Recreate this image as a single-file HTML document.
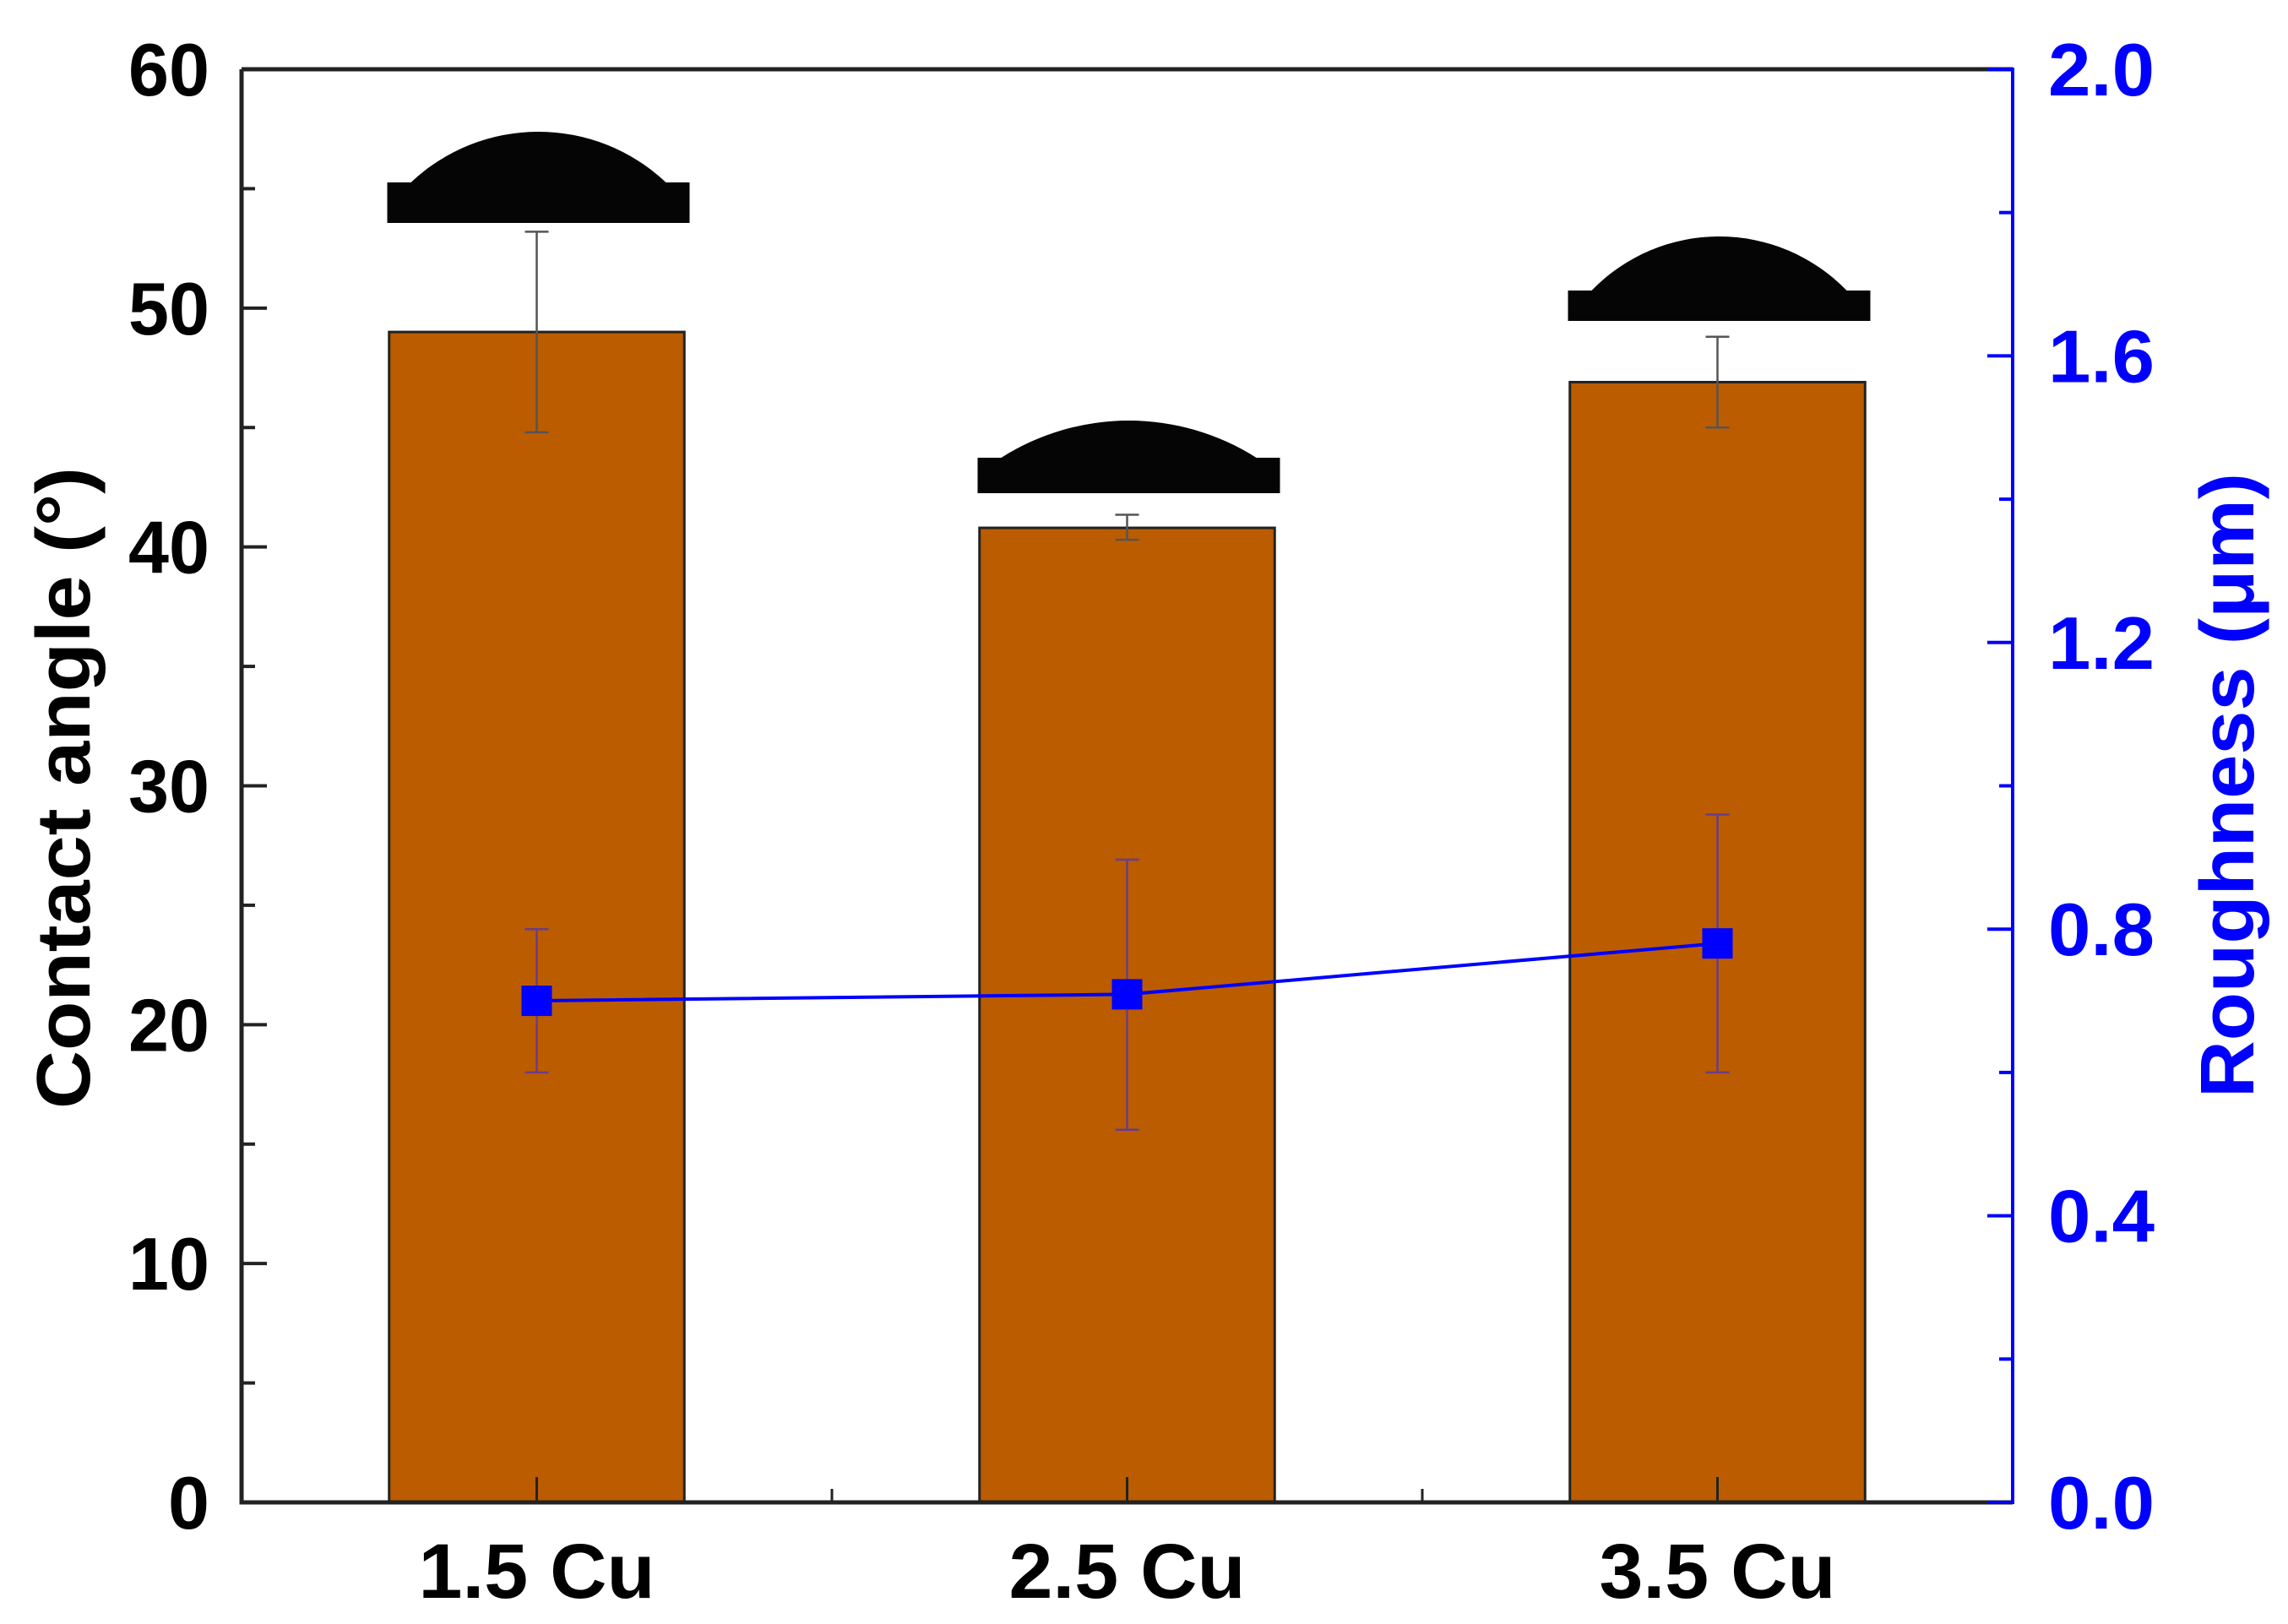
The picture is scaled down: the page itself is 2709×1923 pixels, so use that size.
<!DOCTYPE html>
<html><head><meta charset="utf-8"><style>
html,body{margin:0;padding:0;background:#fff;}
svg{display:block;}
text{font-family:"Liberation Sans",Arial,sans-serif;font-weight:bold;}
</style></head><body>
<svg id="chart" width="2709" height="1923" viewBox="0 0 2709 1923" xmlns="http://www.w3.org/2000/svg">
<g id="droplets"></g>
<g id="bars"></g>
<g id="rough"></g>
<g id="axes"></g>
</svg>
<script>
const categories = ["1.5 Cu", "2.5 Cu", "3.5 Cu"];
const contactAngle = [49.0, 40.8, 46.9];
const angleErrLow = [44.8, 40.3, 45.0];
const angleErrHigh = [53.2, 41.35, 48.8];
const roughness = [0.70, 0.709, 0.78];
const roughErrLow = [0.60, 0.52, 0.60];
const roughErrHigh = [0.80, 0.897, 0.96];
const leftTicks = [0, 10, 20, 30, 40, 50, 60];
const rightTicks = [0, 0.4, 0.8, 1.2, 1.6, 2.0];

const NS = "http://www.w3.org/2000/svg";
const L = 286, R = 2383, T = 82, B = 1779;
const xs = i => L + (i + 0.5) * (R - L) / 3;
const yL = v => B - v / 60 * (B - T);
const yR = v => B - v / 2 * (B - T);
function mk(parent, tag, attrs) {
  const e = document.createElementNS(NS, tag);
  for (const k in attrs) e.setAttribute(k, attrs[k]);
  parent.appendChild(e);
  return e;
}
const gB = document.getElementById('bars'), gR = document.getElementById('rough'),
      gA = document.getElementById('axes'), gD = document.getElementById('droplets');
const bw = (R - L) / 6;
const dropLayout = [[264, 48, 60], [584, 42, 44], [380, 36, 64]];

categories.forEach((c, i) => {
  const x = xs(i);
  const r = mk(gB, 'rect', {x: x - bw / 2, y: yL(contactAngle[i]), width: bw, height: B - yL(contactAngle[i]), fill: '#bb5c00', stroke: '#222', 'stroke-width': 3});
  
  
  const e = mk(gB, 'path', {d: `M${x},${yL(angleErrHigh[i])}V${yL(angleErrLow[i])}M${x-14},${yL(angleErrHigh[i])}h28M${x-14},${yL(angleErrLow[i])}h28`, stroke: '#555', 'stroke-width': 2.5, fill: 'none'});
  
  
  const [bot, h, dh] = dropLayout[i];
  const w = 358, dx = x - w / 2 + 2, s = bot - h;
  const chord = w - 56, rad = (chord * chord / 4 + dh * dh) / (2 * dh);
  const d = mk(gD, 'path', {d: `M${dx},${bot}V${s}H${dx+28}A${rad},${rad} 0 0 1 ${dx+w-28},${s}H${dx+w}V${bot}Z`, fill: '#050505'});
  
  
});

let pts = roughness.map((v, i) => [xs(i), yR(v)]);
const line = mk(gR, 'polyline', {points: pts.map(p => p.join(',')).join(' '), fill: 'none', stroke: '#0000ff', 'stroke-width': 4});


roughness.forEach((v, i) => {
  const x = xs(i);
  const e = mk(gR, 'path', {d: `M${x},${yR(roughErrHigh[i])}V${yR(roughErrLow[i])}M${x-14},${yR(roughErrHigh[i])}h28M${x-14},${yR(roughErrLow[i])}h28`, stroke: '#6a3d8a', 'stroke-width': 2.5, fill: 'none'});
  
  
  const m = mk(gR, 'rect', {x: x - 18, y: yR(v) - 18, width: 36, height: 36, fill: '#0000ff'});
  
  
});

const frame = mk(gA, 'path', {d: `M${L},${T}H${R}M${L},${T}V${B}H${R}`, stroke: '#222', 'stroke-width': 5, fill: 'none'});


const ra = mk(gA, 'line', {x1: R, y1: T - 2, x2: R, y2: B + 2, stroke: '#0000ff', 'stroke-width': 4});


for (let v = 0; v <= 60; v += 5) {
  const major = v % 10 === 0;
  mk(gA, 'line', {x1: L, y1: yL(v), x2: L + (major ? 30 : 16), y2: yL(v), stroke: '#222', 'stroke-width': 4});
}
leftTicks.forEach(v => {
  const attrs = {x: 248, y: yL(v) + 31, 'text-anchor': 'end', 'font-size': 88, fill: '#000'};
  if (v >= 10) { attrs.textLength = 96; attrs.lengthAdjust = 'spacingAndGlyphs'; }
  const t = mk(gA, 'text', attrs);
  t.textContent = v;
  
  
});
for (let v = 0; v <= 2.0001; v += 0.2) {
  const major = Math.round(v * 10) % 4 === 0;
  mk(gA, 'line', {x1: R, y1: yR(v), x2: R - (major ? 30 : 16), y2: yR(v), stroke: '#0000ff', 'stroke-width': 4});
}
rightTicks.forEach(v => {
  const t = mk(gA, 'text', {x: 2425, y: yR(v) + 31, 'text-anchor': 'start', 'font-size': 88, fill: '#0000ff', textLength: 126, lengthAdjust: 'spacingAndGlyphs'});
  t.textContent = v.toFixed(1);
  
  
});
categories.forEach((c, i) => {
  mk(gA, 'line', {x1: xs(i), y1: B, x2: xs(i), y2: B - 30, stroke: '#222', 'stroke-width': 3});
  if (i < 2) mk(gA, 'line', {x1: xs(i + 0.5), y1: B, x2: xs(i + 0.5), y2: B - 16, stroke: '#222', 'stroke-width': 3});
  const t = mk(gA, 'text', {x: xs(i), y: 1892, 'text-anchor': 'middle', 'font-size': 92, fill: '#000', textLength: 280, lengthAdjust: 'spacingAndGlyphs'});
  t.textContent = c;
  
  
});
const yt = mk(gA, 'text', {x: 0, y: 0, 'text-anchor': 'middle', 'font-size': 90, fill: '#000', transform: 'translate(106,933) rotate(-90)', textLength: 760, lengthAdjust: 'spacingAndGlyphs'});
yt.textContent = 'Contact angle (°)';


const rt = mk(gA, 'text', {x: 0, y: 0, 'text-anchor': 'middle', 'font-size': 90, fill: '#0000ff', transform: 'translate(2668,930) rotate(-90)', textLength: 740, lengthAdjust: 'spacingAndGlyphs'});
rt.textContent = 'Roughness (μm)';


</script>
</body></html>
